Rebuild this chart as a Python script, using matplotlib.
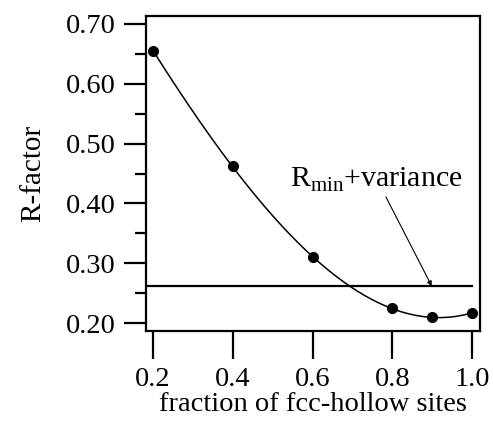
import matplotlib
matplotlib.use('Agg')
import matplotlib.pyplot as plt
import numpy as np

# fraction of fcc-hollow sites vs R-factor
fraction = [0.2, 0.4, 0.6, 0.8, 0.9, 1.0]
r_factor = [0.655, 0.462, 0.310, 0.225, 0.210, 0.217]
r_min_plus_var = 0.262

xticks = [0.2, 0.4, 0.6, 0.8, 1.0]
xtick_labels = ['0.2', '0.4', '0.6', '0.8', '1.0']
yticks = [0.20, 0.30, 0.40, 0.50, 0.60, 0.70]
ytick_labels = ['0.20', '0.30', '0.40', '0.50', '0.60', '0.70']

plt.rcParams['font.family'] = ['Liberation Serif', 'DejaVu Serif']
plt.rcParams['mathtext.fontset'] = 'custom'
plt.rcParams['mathtext.rm'] = 'Liberation Serif'

fig = plt.figure(figsize=(4.93, 4.26), dpi=100)
ax = fig.add_axes([146 / 493, 1 - 331 / 426, (480 - 146) / 493, (331 - 16) / 426])

# smooth fit through the measured points
coef = np.polyfit(fraction, r_factor, 3)
xs = np.linspace(fraction[0], fraction[-1], 200)
ax.plot(xs, np.polyval(coef, xs), color='black', lw=1.1)
ax.plot(fraction, r_factor, 'o', color='black', ms=7)

ax.plot([0.1825, 1.0], [r_min_plus_var, r_min_plus_var], color='black', lw=1.6)

ax.text(0.543, 0.427, r'R$_{\mathrm{min}}$+variance', fontsize=21.5,
        ha='left', va='baseline')
ax.annotate('', xy=(0.899, r_min_plus_var), xytext=(0.784, 0.411),
            arrowprops=dict(arrowstyle='-|>', color='black', lw=0.8,
                            mutation_scale=7, shrinkA=0, shrinkB=0))

ax.set_xlim(0.1825, 1.02)
ax.set_ylim(0.187, 0.713)
ax.set_xticks(xticks)
ax.set_xticklabels(xtick_labels)
ax.set_yticks(yticks)
ax.set_yticklabels(ytick_labels)
ax.set_yticks(np.arange(0.25, 0.70, 0.10), minor=True)

ax.tick_params(axis='both', which='major', direction='out', labelsize=20.5,
               width=1.6, color='black')
ax.tick_params(axis='y', which='major', length=16, pad=6)
ax.tick_params(axis='y', which='minor', length=8, width=1.6)
ax.tick_params(axis='x', which='major', length=20, pad=6)

for s in ax.spines.values():
    s.set_linewidth(1.6)

ax.set_ylabel('R-factor', fontsize=21, labelpad=14)
ax.set_xlabel('fraction of fcc-hollow sites', fontsize=20.5, labelpad=0)

fig.savefig('out.png', dpi=100)
